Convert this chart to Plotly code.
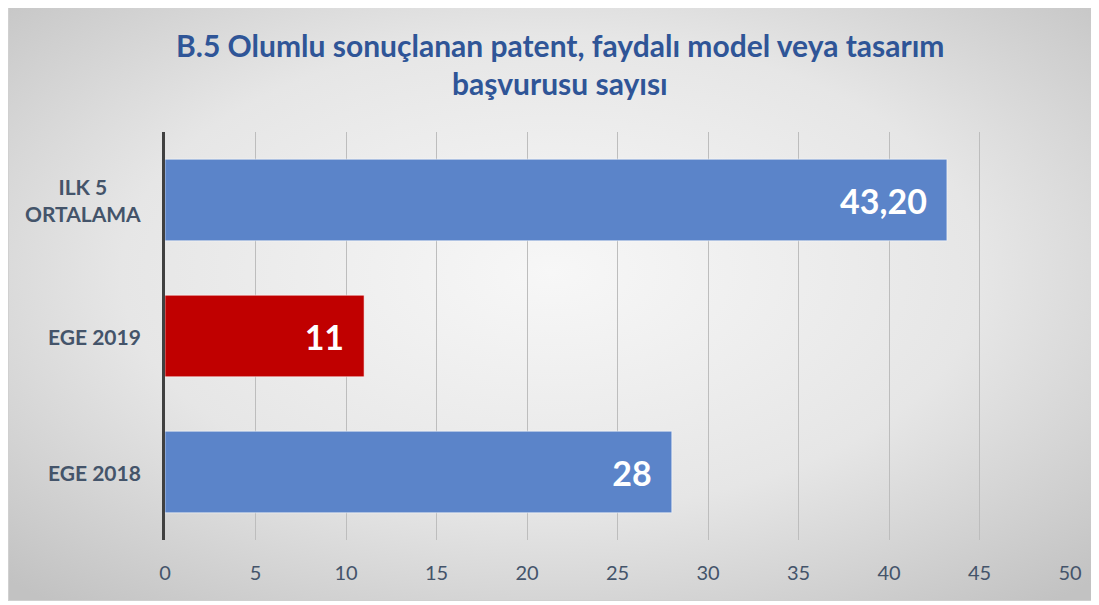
import base64
import plotly.graph_objects as go

categories = ["EGE 2018", "EGE 2019", "ILK 5<br>ORTALAMA"]
values = [28, 11, 43.2]
labels = ["28", "11", "43,20"]
colors = ["#5B84C9", "#C00000", "#5B84C9"]
x_ticks = [0, 5, 10, 15, 20, 25, 30, 35, 40, 45, 50]
title_line1 = "B.5 Olumlu sonuçlanan patent, faydalı model veya tasarım"
title_line2 = "başvurusu sayısı"

# page body has an 8px margin; figure is sized to fit the window
W, H = 1091, 597
L, T = 157, 124
R = W - (1070 - 8)
B = H - (540 - 8)
pw, ph = W - L - R, H - T - B

FONT = "Lato, Open Sans, sans-serif"

svg = '''<svg xmlns="http://www.w3.org/2000/svg" width="1087" height="598" viewBox="0 0 1087 598" preserveAspectRatio="none">
<defs><radialGradient id="g" cx="50%" cy="45%" r="72%">
<stop offset="0" stop-color="#f7f7f7"/><stop offset="0.55" stop-color="#e6e6e6"/><stop offset="1" stop-color="#c2c2c2"/>
</radialGradient></defs>
<rect x="0.5" y="0.5" width="1086" height="597" fill="url(#g)" stroke="#d0d0d0" stroke-width="1"/>
</svg>'''
src = "data:image/svg+xml;base64," + base64.b64encode(svg.encode()).decode()

fig = go.Figure()
fig.add_trace(go.Bar(
    y=categories, x=values, orientation="h",
    marker=dict(color=colors, line=dict(color="rgba(255,255,255,0.55)", width=1)),
    text=[t + "\u2002" for t in labels], textposition="inside", insidetextanchor="end",
    textfont=dict(family=FONT, size=34, color="white", weight="bold"),
    cliponaxis=False, hoverinfo="skip",
))

def py(screen_y):
    return (H - B - (screen_y - 8)) / ph

fig.update_layout(
    width=W, height=H,
    margin=dict(l=L, r=R, t=T, b=B),
    paper_bgcolor="white", plot_bgcolor="rgba(0,0,0,0)",
    bargap=0.4, showlegend=False,
    images=[dict(source=src, xref="paper", yref="paper",
                 x=(0 - L) / pw, y=py(3), sizex=1087 / pw, sizey=598 / ph,
                 xanchor="left", yanchor="top", sizing="stretch", layer="below")],
    xaxis=dict(range=[0, 50], tickvals=x_ticks, ticktext=[str(v) for v in x_ticks],
               showgrid=True, gridcolor="#bdbdbd", gridwidth=1, zeroline=False,
               showline=False, ticks="", ticklabelstandoff=19,
               tickfont=dict(family=FONT, size=20, color="#44546A")),
    yaxis=dict(categoryorder="array", categoryarray=categories,
               showline=True, linecolor="#404040", linewidth=3, showgrid=False,
               ticks="", showticklabels=False),
)

for txt, sy in [(title_line1, 45), (title_line2, 83)]:
    fig.add_annotation(x=(560 - 8 - L) / pw, xref="paper", y=py(sy), yref="paper",
                       xanchor="center", yanchor="middle", text=txt, showarrow=False,
                       font=dict(family=FONT, size=30, color="#2F5597", weight="bold"))

for c in categories:
    fig.add_annotation(x=(143 - 8 - L) / pw, xref="paper", y=c, yref="y", xanchor="right", yanchor="middle",
                       text=c, showarrow=False, align="center",
                       font=dict(family=FONT, size=21, color="#44546A", weight="bold"))

fig.write_html("out.html")
